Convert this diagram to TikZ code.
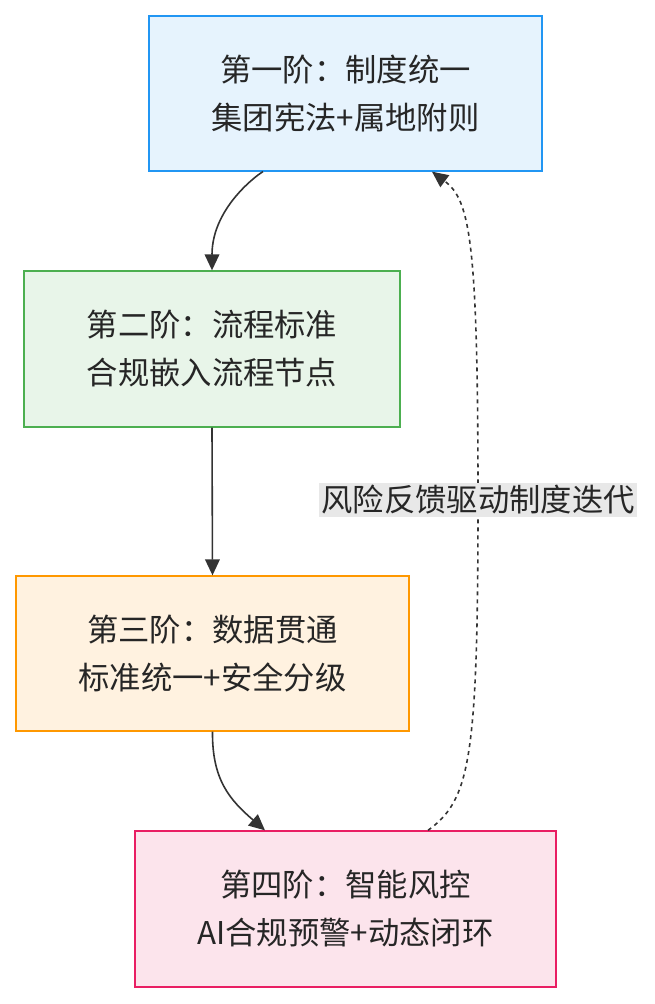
\documentclass[tikz,border=0pt]{standalone}
\usepackage{fontspec}
\newfontfamily\cjk{Noto Sans CJK SC}
\usetikzlibrary{arrows.meta}
\definecolor{bluefill}{HTML}{E6F3FD}
\definecolor{blueline}{HTML}{2196F3}
\definecolor{greenfill}{HTML}{E8F5E9}
\definecolor{greenline}{HTML}{4CAF50}
\definecolor{orangefill}{HTML}{FFF2E0}
\definecolor{orangeline}{HTML}{FF9800}
\definecolor{pinkfill}{HTML}{FCE4EC}
\definecolor{pinkline}{HTML}{E91E63}
\definecolor{linkgray}{HTML}{333333}
\definecolor{labelbg}{HTML}{E8E8E8}
\begin{document}
\begin{tikzpicture}[x=0.75pt,y=-0.75pt,
  stage/.style={draw,line width=1pt,align=center,font=\cjk\fontsize{23.5}{36}\selectfont,text=black!85},
  link/.style={draw=linkgray,line width=1.2pt,-{Triangle[length=12pt,width=11pt]}}]
\useasboundingbox (0,0) rectangle (654,1004);
\node[stage,fill=bluefill,draw=blueline,minimum width=393*0.75pt,minimum height=155*0.75pt] (s1) at (345.5,93.5) {第一阶：制度统一\\集团宪法+属地附则};
\node[stage,fill=greenfill,draw=greenline,minimum width=376*0.75pt,minimum height=156*0.75pt] (s2) at (212,349) {第二阶：流程标准\\合规嵌入流程节点};
\node[stage,fill=orangefill,draw=orangeline,minimum width=393*0.75pt,minimum height=155*0.75pt] (s3) at (212.5,653.5) {第三阶：数据贯通\\标准统一+安全分级};
\node[stage,fill=pinkfill,draw=pinkline,minimum width=421*0.75pt,minimum height=156*0.75pt] (s4) at (345.5,909) {第四阶：智能风控\\AI合规预警+动态闭环};
% links
\draw[link] (s1.south -| 263,0) .. controls (263,171) and (212,205) .. (s2.north);
\draw[link] (s2.south) -- (s3.north);
\draw[link] (s3.south) .. controls (212,780) and (230,800) .. (s4.north -| 265,0);
\draw[link,dashed] (s4.north -| 428,0) .. controls (470,800) and (478,760) .. (478,500)
  node[fill=labelbg,inner sep=2pt,font=\cjk\fontsize{23.5}{28}\selectfont,text=black!85] (fb) {风险反馈驱动制度迭代}
  .. controls (478,240) and (470,200) .. (s1.south -| 432,0);
\end{tikzpicture}
\end{document}
